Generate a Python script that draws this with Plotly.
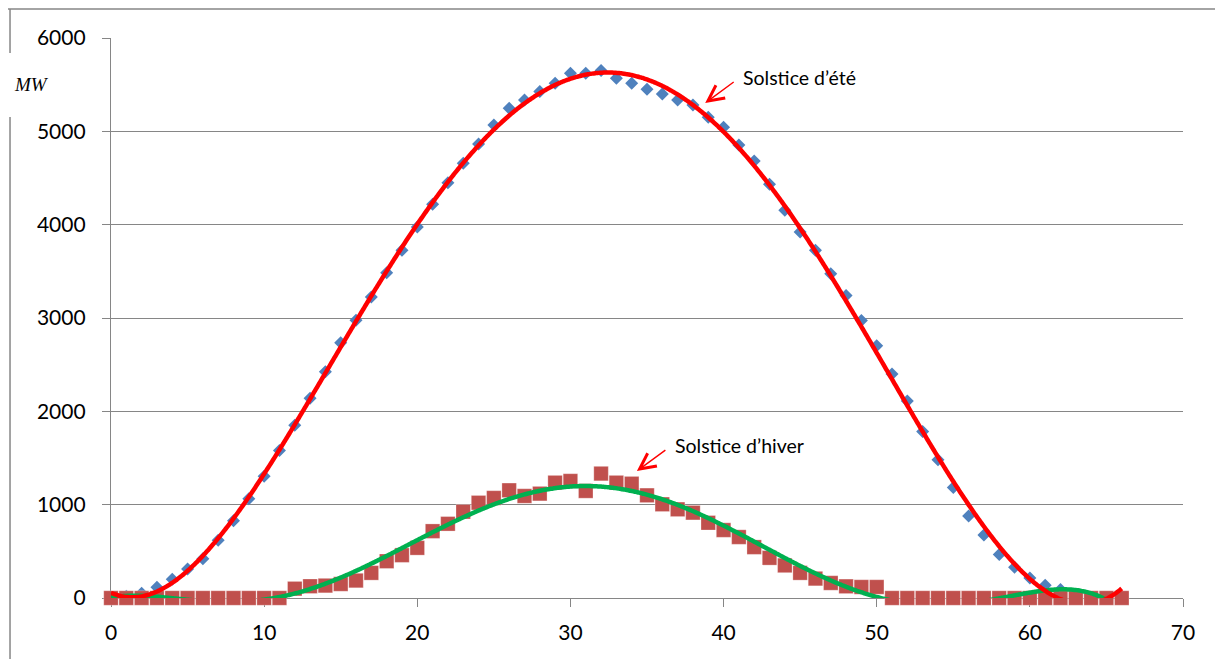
import numpy as np
import plotly.graph_objects as go

# Solar production over one day, sampled at regular intervals (index 0..66)
steps = list(range(67))

# Summer solstice production (MW)
ete_mw = [0, 20, 50, 115, 200, 312, 420, 620, 827, 1064,
          1304, 1580, 1850, 2140, 2425, 2734, 2977, 3224, 3486, 3725,
          3975, 4219, 4448, 4657, 4865, 5068, 5247, 5337, 5426, 5516,
          5623, 5623, 5652, 5570, 5516, 5452, 5401, 5337, 5283, 5150,
          5043, 4853, 4681, 4434, 4155, 3922, 3725, 3475, 3242, 2973,
          2704, 2400, 2110, 1785, 1480, 1183, 878, 674, 466, 330,
          215, 136, 90, 0, 0, 0, 0]

# Winter solstice production (MW)
hiver_mw = [0, 0, 0, 0, 0, 0, 0, 0, 0, 0,
            0, 0, 100, 126, 133, 150, 187, 269, 394, 459,
            537, 716, 795, 924, 1021, 1072, 1154, 1093, 1118, 1236,
            1254, 1147, 1333, 1236, 1225, 1100, 1004, 950, 914, 806,
            728, 653, 545, 430, 349, 269, 208, 161, 125, 118,
            118, 0, 0, 0, 0, 0, 0, 0, 0, 0,
            0, 0, 0, 0, 0, 0, 0]

x_ticks = [0, 10, 20, 30, 40, 50, 60, 70]
y_ticks = [0, 1000, 2000, 3000, 4000, 5000, 6000]

# Order-6 polynomial trendlines fitted to each series
x_arr = np.array(steps, dtype=float)
x_fine = np.linspace(0, 66, 600)
fit_ete = np.polynomial.Polynomial.fit(x_arr, np.array(ete_mw, dtype=float), 6)
fit_hiver = np.polynomial.Polynomial.fit(x_arr, np.array(hiver_mw, dtype=float), 6)

GRID = "#868686"
FONT = "Lato"

fig = go.Figure()

fig.add_trace(go.Scatter(
    x=steps, y=ete_mw, mode="markers", name="Solstice d'été",
    marker=dict(symbol="diamond", size=10, color="#4F81BD", line=dict(width=0)),
    cliponaxis=False,
))
fig.add_trace(go.Scatter(
    x=steps, y=hiver_mw, mode="markers", name="Solstice d'hiver",
    marker=dict(symbol="square", size=14.5, color="#C0504D",
                line=dict(width=0.8, color="rgba(255,255,255,0.35)")),
    cliponaxis=False,
))
fig.add_trace(go.Scatter(
    x=x_fine, y=fit_hiver(x_fine), mode="lines",
    line=dict(color="#00B050", width=4.5, shape="spline"),
))
fig.add_trace(go.Scatter(
    x=x_fine, y=fit_ete(x_fine), mode="lines",
    line=dict(color="#FF0000", width=4.5, shape="spline"),
))

# Callouts with open red arrows
fig.add_annotation(x=38.8, y=5304, ax=30, ay=-22, xref="x", yref="y",
                   axref="pixel", ayref="pixel", text="", showarrow=True,
                   arrowhead=5, arrowsize=2.2, arrowwidth=1.4, arrowcolor="#FF0000")
fig.add_annotation(x=41.15, y=5573, xref="x", yref="y", text="Solstice d’été",
                   showarrow=False, xanchor="left", yanchor="middle",
                   font=dict(family=FONT, size=19.5, color="black"))
fig.add_annotation(x=34.34, y=1361, ax=30, ay=-22, xref="x", yref="y",
                   axref="pixel", ayref="pixel", text="", showarrow=True,
                   arrowhead=5, arrowsize=2.2, arrowwidth=1.4, arrowcolor="#FF0000")
fig.add_annotation(x=36.7, y=1637, xref="x", yref="y", text="Solstice d’hiver",
                   showarrow=False, xanchor="left", yanchor="middle",
                   font=dict(family=FONT, size=19.5, color="black"))

# Unit label
fig.add_annotation(x=-0.0737, y=0.9161, xref="paper", yref="paper",
                   text="<i>MW</i>", showarrow=False, xanchor="center", yanchor="middle",
                   font=dict(family="Liberation Serif", size=19, color="black"))

# Outer frame (top and left edges, interrupted by the unit label)
frame = dict(color=GRID, width=1.5)
fig.add_shape(type="line", xref="paper", yref="paper",
              x0=-0.0961, x1=1.04, y0=1.0518, y1=1.0518, line=frame)
fig.add_shape(type="line", xref="paper", yref="paper",
              x0=-0.0942, x1=-0.0942, y0=1.0518, y1=0.9732, line=frame)
fig.add_shape(type="line", xref="paper", yref="paper",
              x0=-0.0942, x1=-0.0942, y0=0.8589, y1=-0.12, line=frame)

fig.update_layout(
    width=1215, height=659,
    margin=dict(l=111, r=32, t=38, b=61),
    paper_bgcolor="white", plot_bgcolor="white",
    showlegend=False,
    font=dict(family=FONT, size=21, color="black"),
    xaxis=dict(range=[0, 70], tickvals=x_ticks, ticktext=[str(v) for v in x_ticks],
               showgrid=False, zeroline=False, showline=True, linecolor=GRID, linewidth=1.3,
               ticks="outside", ticklen=8, tickcolor=GRID, tickwidth=1.3,
               ticklabelstandoff=8, layer="below traces",
               tickfont=dict(family=FONT, size=21, color="black")),
    yaxis=dict(range=[0, 6000], tickvals=y_ticks, ticktext=[str(v) for v in y_ticks],
               showgrid=True, gridcolor=GRID, gridwidth=1.3, zeroline=False,
               showline=True, linecolor=GRID, linewidth=1.3,
               ticks="outside", ticklen=8, tickcolor=GRID, tickwidth=1.3,
               ticklabelstandoff=12, layer="below traces",
               tickfont=dict(family=FONT, size=21, color="black")),
)

fig.write_html("out.html")
